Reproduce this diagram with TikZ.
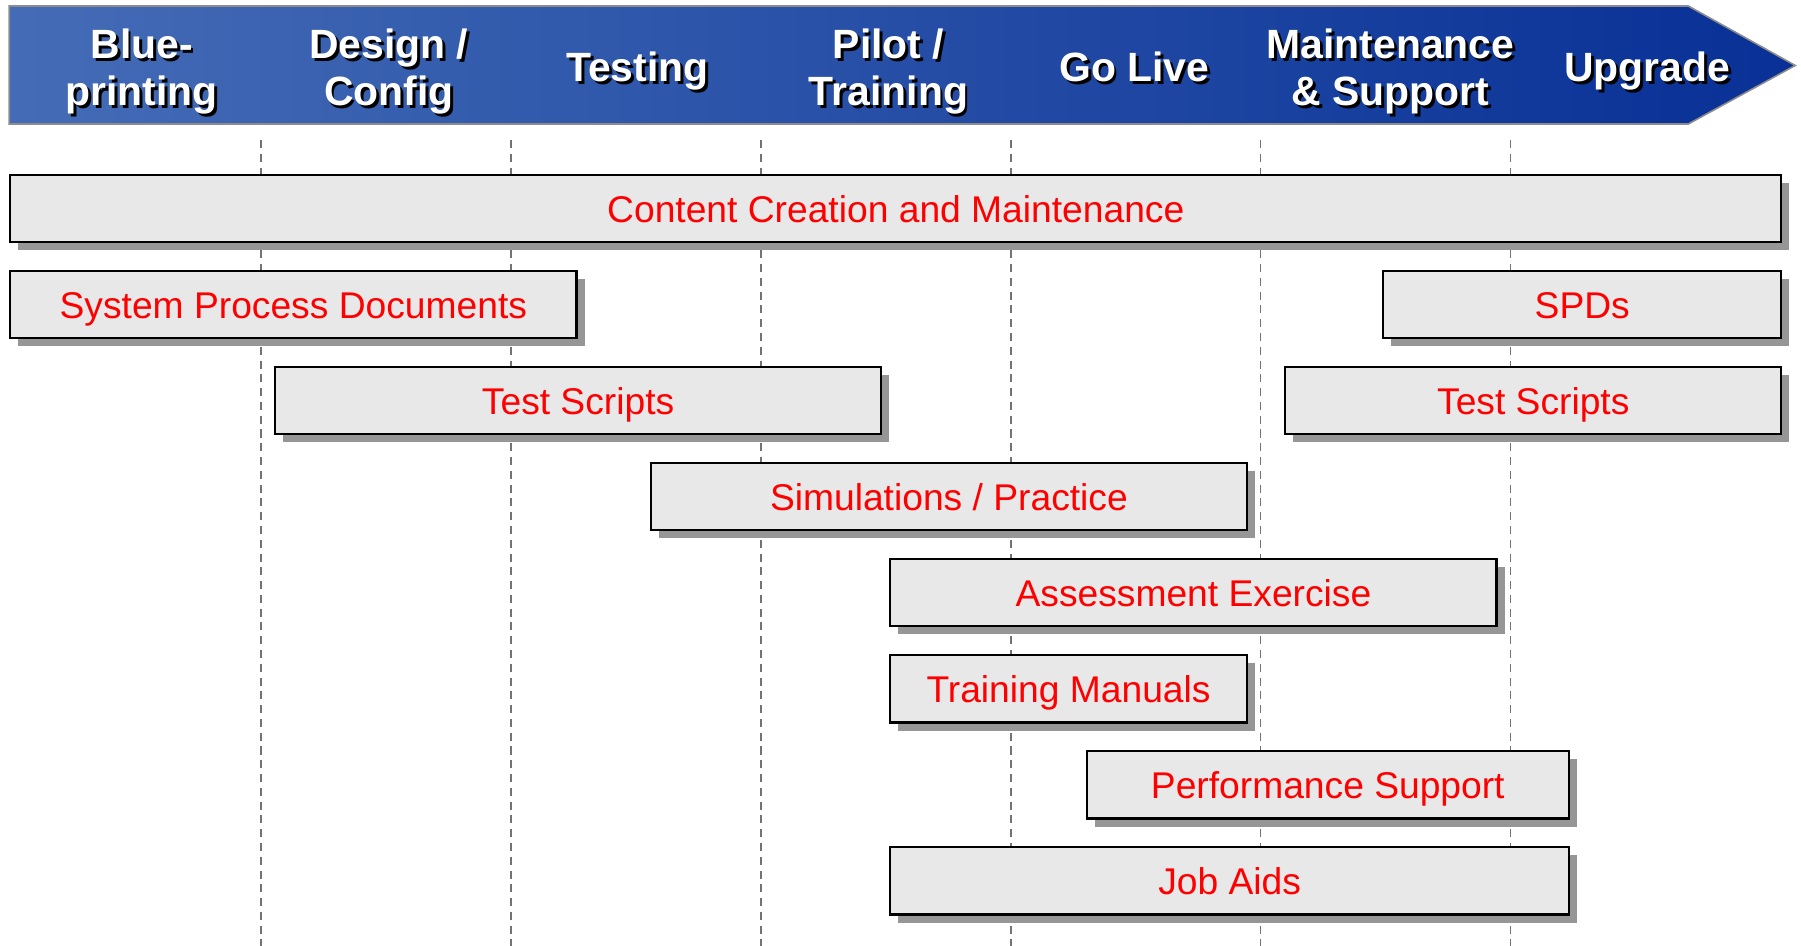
\documentclass[tikz,border=0pt]{standalone}
\usepackage{fontspec}
\setmainfont{Liberation Sans}
\usetikzlibrary{shadows}
\definecolor{bannerL}{RGB}{68,108,182}
\definecolor{bannerR}{RGB}{8,48,150}
\definecolor{bannerBorder}{RGB}{140,140,140}
\definecolor{barfill}{RGB}{232,232,232}
\definecolor{shadowgray}{RGB}{150,150,150}
\definecolor{guide}{RGB}{115,115,115}
\tikzset{
  hdr/.style={text=white, font=\fontsize{17.8}{20.6}\selectfont\bfseries, align=center, inner sep=0pt},
  hdrshadow/.style={hdr, text=black},
  bar/.style={draw=black, line width=0.9pt, fill=barfill, rectangle, inner sep=0pt,
    minimum height=29.3pt, anchor=north west, text=red,
    font=\fontsize{16.2}{19}\selectfont, text height=11.6pt, text depth=0pt,
    drop shadow={shadow xshift=3.5pt, shadow yshift=-3.5pt, fill=shadowgray, opacity=1}},
  guideline/.style={draw=guide, line width=0.7pt, dash pattern=on 3.5pt off 2.5pt}
}
\begin{document}
\begin{tikzpicture}[x=0.5pt, y=-0.5pt]
\useasboundingbox (0,0) rectangle (1568,823.6);
% guide lines
\foreach \gx [count=\i] in {227,445,662.5,880,1097.5,1315}{
  \coordinate (gt\i) at (\gx,121.9);
  \coordinate (gb\i) at (\gx,823.6);
  \draw[guideline] (gt\i) -- (gb\i);
}
% banner
\path[draw=bannerBorder, line width=0.7pt, left color=bannerL, right color=bannerR]
  (8,5.2) -- (1469.75,5.2) -- (1563,57) -- (1469.75,108) -- (8,108) -- cycle;
% header labels (shadow then text)
\node[hdrshadow] (h1s) at (125.8,64.8) {Blue-\\printing};
\node[hdr] (h1) at (123.3,62.3) {Blue-\\printing};
\node[hdrshadow] (h2s) at (341,64.8) {Design /\\Config};
\node[hdr] (h2) at (338.5,62.3) {Design /\\Config};
\node[hdrshadow, anchor=base] (h3s) at (557.5,73.6) {Testing};
\node[hdr, anchor=base] (h3) at (555,71.1) {Testing};
\node[hdrshadow] (h4s) at (776,64.8) {Pilot /\\Training};
\node[hdr] (h4) at (773.5,62.3) {Pilot /\\Training};
\node[hdrshadow, anchor=base] (h5s) at (990,73.6) {Go Live};
\node[hdr, anchor=base] (h5) at (987.5,71.1) {Go Live};
\node[hdrshadow] (h6s) at (1213,64.8) {Maintenance\\\& Support};
\node[hdr] (h6) at (1210.5,62.3) {Maintenance\\\& Support};
\node[hdrshadow, anchor=base] (h7s) at (1436.5,73.6) {Upgrade};
\node[hdr, anchor=base] (h7) at (1434,71.1) {Upgrade};
% bars
\node[bar, minimum width=771pt] (cc) at (8,151.5) {Content Creation and Maintenance};
\node[bar, minimum width=246.5pt] (spd) at (8,235.1) {System Process Documents};
\node[bar, minimum width=173.35pt] (spds) at (1203.3,235.1) {SPDs};
\node[bar, minimum width=264.1pt] (ts1) at (238.3,318.7) {Test Scripts};
\node[bar, minimum width=216pt] (ts2) at (1118,318.7) {Test Scripts};
\node[bar, minimum width=259.25pt] (sim) at (566,402.3) {Simulations / Practice};
\node[bar, minimum width=263.85pt] (ae) at (774.3,485.9) {Assessment Exercise};
\node[bar, minimum width=155.1pt] (tm) at (774.3,569.5) {Training Manuals};
\node[bar, minimum width=209.9pt] (ps) at (945.2,653.1) {Performance Support};
\node[bar, minimum width=295.35pt] (ja) at (774.3,736.7) {Job Aids};
\end{tikzpicture}
\end{document}
